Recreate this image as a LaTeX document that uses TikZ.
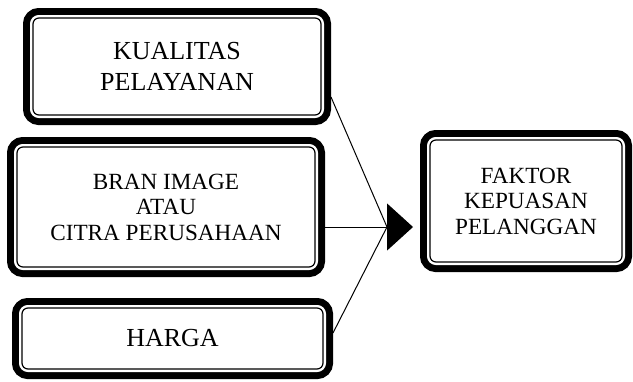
\documentclass[tikz,border=0pt]{standalone}
\usepackage{fontspec}
\setmainfont{Liberation Serif}
\usepackage{tikz}
\usetikzlibrary{shapes,positioning,arrows.meta}

\begin{document}
\begin{tikzpicture}[x=1pt,y=1pt,line width=1pt]
\tikzstyle{block} = [draw, fill=white, shape=rectangle, rounded corners=6pt, line width=1.2pt, inner sep=0pt, outer sep=10pt, align=center,
  preaction={draw=black, line width=20pt}, preaction={draw=white, line width=6pt}]
\tikzstyle{bigtext}=[font=\fontsize{26}{31}\selectfont]
\tikzstyle{smalltext}=[font=\fontsize{23.2}{25.5}\selectfont]
\useasboundingbox (0,0) rectangle (633,-381);

% Inputs
\node [block, bigtext, minimum width=288pt, minimum height=97pt] at (177,-66.5) (kualitas) {KUALITAS\\PELAYANAN};
\node [block, smalltext, below of=kualitas, node distance=140.5pt, xshift=-11pt, minimum width=298pt, minimum height=120pt] (citra) {BRAN IMAGE\\ATAU\\CITRA PERUSAHAAN};
\node [block, bigtext, below of=citra, node distance=131.5pt, xshift=6.5pt, minimum width=301pt, minimum height=61pt] (harga) {HARGA};

% Output
\node [block, smalltext, right of=citra, node distance=360pt, yshift=6pt, minimum width=192pt, minimum height=122pt] (kepuasan) {FAKTOR\\KEPUASAN\\PELANGGAN};

% Connectors
\coordinate (tip) at (413,-227);
\coordinate [left=26pt of tip] (meet);
\draw[-{Triangle[length=26pt,width=47pt]}] (meet -| citra.east) -- (tip);
\draw ([yshift=-30.5pt]kualitas.east) -- (meet);
\draw ([yshift=5.5pt]harga.east) -- (meet);

\end{tikzpicture}
\end{document}
